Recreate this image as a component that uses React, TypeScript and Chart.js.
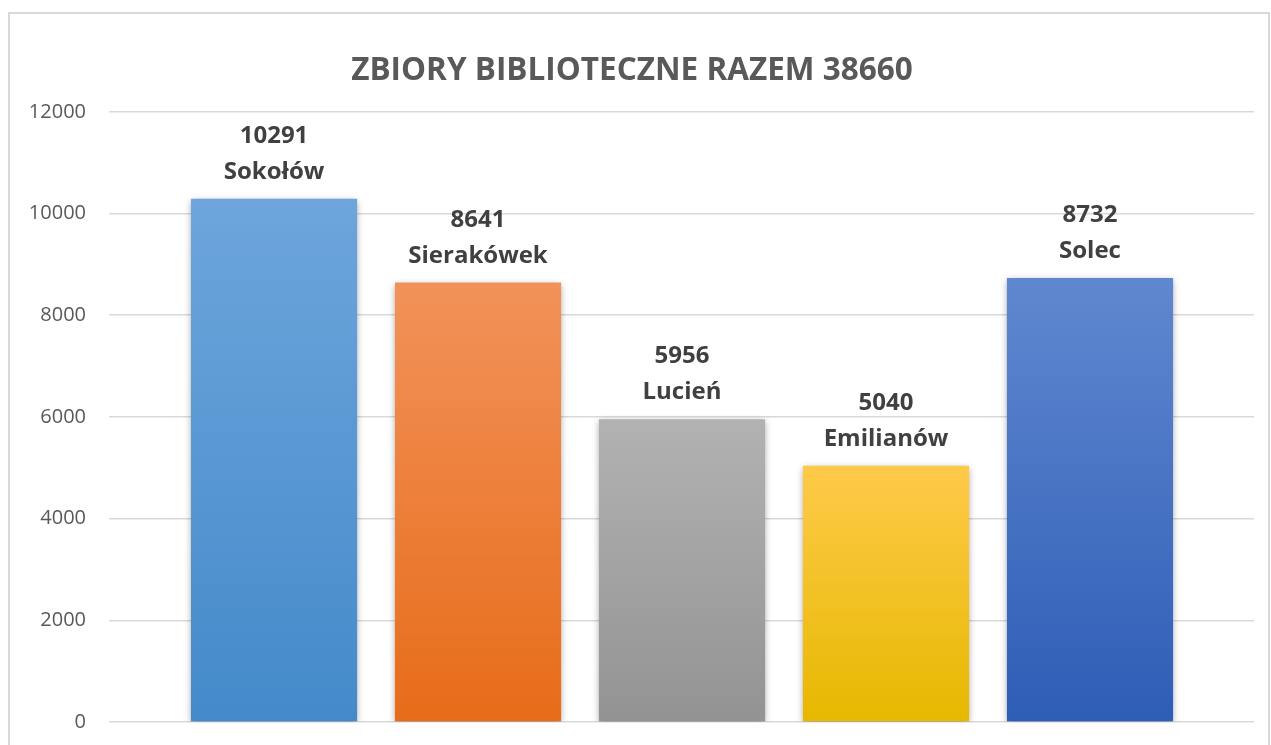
import React, { useEffect, useRef } from "react";
import { Chart, registerables } from "chart.js";

Chart.register(...registerables);

const TITLE = "ZBIORY BIBLIOTECZNE RAZEM 38660";
const categories = ["Sokołów", "Sierakówek", "Lucień", "Emilianów", "Solec"];
const values = [10291, 8641, 5956, 5040, 8732];
const yTicks = [0, 2000, 4000, 6000, 8000, 10000, 12000];
const gradientTop = ["#6DA5DC", "#F2925A", "#B2B2B2", "#FFCA4A", "#6088D0"];
const gradientBottom = ["#448ACA", "#E76C19", "#939393", "#E6B800", "#2E5DB6"];

const FONT = '"Open Sans", "Liberation Sans", sans-serif';

const barDecor = {
  id: "barDecor",
  beforeDatasetsDraw(chart: any) {
    const ctx = chart.ctx;
    ctx.save();
    ctx.shadowColor = "rgba(0,0,0,0.38)";
    ctx.shadowBlur = 7;
    ctx.shadowOffsetX = 0;
    ctx.shadowOffsetY = 2;
  },
  afterDatasetsDraw(chart: any) {
    const ctx = chart.ctx;
    ctx.restore();
    const meta = chart.getDatasetMeta(0);
    ctx.save();
    ctx.font = `bold 24px ${FONT}`;
    ctx.fillStyle = "#404040";
    ctx.textAlign = "center";
    ctx.textBaseline = "alphabetic";
    meta.data.forEach((el: any, i: number) => {
      ctx.fillText(categories[i], el.x, el.y - 20);
      ctx.fillText(String(values[i]), el.x, el.y - 56);
    });
    ctx.restore();
  },
};

export default function App() {
  const ref = useRef<HTMLCanvasElement | null>(null);

  useEffect(() => {
    if (!ref.current) return;
    const chart = new Chart(ref.current, {
      type: "bar",
      data: {
        labels: categories,
        datasets: [
          {
            label: TITLE,
            data: values.map((v, i) => ({ x: i, y: v })) as any,
            backgroundColor: (c: any) => {
              const i = c.dataIndex ?? 0;
              const chartObj = c.chart;
              const { ctx, chartArea, scales } = chartObj;
              if (!chartArea || !scales.y || c.type !== "data") return gradientTop[i];
              const yTop = scales.y.getPixelForValue(values[i]);
              const yBot = scales.y.getPixelForValue(0);
              const g = ctx.createLinearGradient(0, yTop, 0, yBot);
              g.addColorStop(0, gradientTop[i]);
              g.addColorStop(1, gradientBottom[i]);
              return g;
            },
            borderWidth: 0,
            categoryPercentage: 1,
            barPercentage: 0.8145,
          },
        ],
      },
      options: {
        animation: false,
        responsive: false,
        layout: { padding: { left: 0, right: 14, top: 0, bottom: 0 } },
        plugins: {
          legend: { display: false },
          tooltip: { enabled: false },
          title: {
            display: true,
            text: TITLE,
            color: "#595959",
            font: { family: FONT, size: 31.5, weight: "bold" },
            padding: { top: 38, bottom: 22 },
          },
        },
        scales: {
          x: {
            type: "linear",
            offset: false,
            min: -0.809,
            max: 4.804,
            display: false,
            grid: { display: false, offset: false },
            afterBuildTicks: (s: any) => {
              s.ticks = categories.map((_, i) => ({ value: i }));
            },
          },
          y: {
            min: 0,
            max: 12000,
            afterBuildTicks: (s: any) => {
              s.ticks = yTicks.map((v) => ({ value: v }));
            },
            afterFit: (s: any) => {
              s.width = 99;
            },
            border: { display: false },
            grid: { color: "#D9D9D9", lineWidth: 1.5, drawTicks: false },
            ticks: {
              color: "#595959",
              padding: 23,
              font: { family: FONT, size: 20 },
              callback: (v: any) => String(v),
            },
          },
        },
      },
      plugins: [barDecor],
    } as any);
    return () => chart.destroy();
  }, []);

  return (
    <div
      style={{
        position: "fixed",
        left: 8,
        top: 12,
        width: 1262,
        height: 733,
        overflow: "hidden",
        boxSizing: "border-box",
        borderTop: "2px solid #D9D9D9",
        borderLeft: "2px solid #D9D9D9",
        borderRight: "2px solid #D9D9D9",
        background: "#fff",
      }}
    >
      <canvas ref={ref} width={1258} height={743} style={{ display: "block" }} />
    </div>
  );
}
